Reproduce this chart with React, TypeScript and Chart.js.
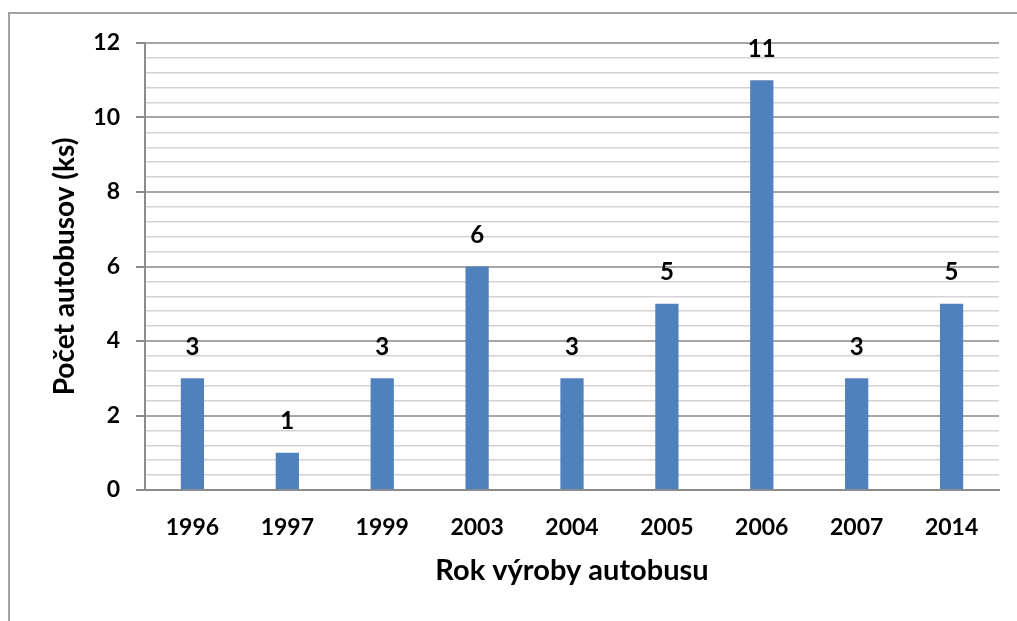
import React, { useEffect, useRef } from "react";
import { Chart, registerables } from "chart.js";

Chart.register(...registerables);

const categories = ["1996", "1997", "1999", "2003", "2004", "2005", "2006", "2007", "2014"];
const busCounts = [3, 1, 3, 6, 3, 5, 11, 3, 5];
const yMin = 0;
const yMax = 12;
const yMinorStep = 0.4;
const yMajorStep = 2;
const xTitle = "Rok výroby autobusu";
const yTitle = "Počet autobusov (ks)";

const FONT = "Lato, 'Open Sans', sans-serif";
const isMajor = (v: number) => Math.abs(v / yMajorStep - Math.round(v / yMajorStep)) < 1e-6;

const valueLabels = {
  id: "valueLabels",
  afterDatasetsDraw(chart: any) {
    const ctx = chart.ctx;
    const meta = chart.getDatasetMeta(0);
    const data = chart.data.datasets[0].data as number[];
    ctx.save();
    ctx.font = `bold 24px ${FONT}`;
    ctx.fillStyle = "#000";
    ctx.textAlign = "center";
    ctx.textBaseline = "middle";
    meta.data.forEach((bar: any, i: number) => {
      ctx.fillText(String(data[i]), bar.x, bar.y - 31);
    });
    ctx.restore();
  },
};

export default function App() {
  const ref = useRef<HTMLCanvasElement | null>(null);
  useEffect(() => {
    if (!ref.current) return;
    const chart = new Chart(ref.current, {
      type: "bar",
      data: {
        labels: categories,
        datasets: [
          {
            data: busCounts,
            backgroundColor: "#4F81BD",
            borderWidth: 0,
            barPercentage: 1,
            categoryPercentage: 0.245,
          },
        ],
      },
      options: {
        animation: false,
        responsive: false,
        maintainAspectRatio: false,
        layout: { padding: { top: 43, right: 18, left: 0, bottom: 0 } },
        plugins: { legend: { display: false }, tooltip: { enabled: false } },
        scales: {
          x: {
            grid: { display: false, drawTicks: false },
            border: { display: true, color: "#8c8c8c", width: 2 },
            ticks: {
              color: "#000",
              font: { family: FONT, weight: "bold", size: 23 },
              padding: 24,
            },
            title: {
              display: true,
              text: xTitle,
              color: "#000",
              font: { family: FONT, weight: "bold", size: 29 },
              padding: { top: 0, bottom: 33 },
            },
            afterFit: (s: any) => {
              s.height = 131;
            },
          },
          y: {
            min: yMin,
            max: yMax,
            grid: {
              color: (c: any) => (c.tick && isMajor(c.tick.value) ? "#a6a6a6" : "#d3d3d3"),
              lineWidth: (c: any) => (c.tick && isMajor(c.tick.value) ? 2 : 1.5),
              tickColor: (c: any) => (c.tick && isMajor(c.tick.value) ? "#8c8c8c" : "rgba(0,0,0,0)"),
              tickLength: 9,
              drawTicks: true,
            },
            border: { display: true, color: "#8c8c8c", width: 2 },
            ticks: {
              stepSize: yMinorStep,
              maxTicksLimit: 100,
              autoSkip: false,
              color: "#000",
              font: { family: FONT, weight: "bold", size: 23 },
              padding: 16,
              callback: (v: any) => (isMajor(Number(v)) ? String(Math.round(Number(v))) : ""),
            },
            title: {
              display: true,
              text: yTitle,
              color: "#000",
              font: { family: FONT, weight: "bold", size: 28 },
              padding: { top: 48, bottom: 0 },
            },
            afterFit: (s: any) => {
              s.width = 145;
            },
          },
        },
      },
      plugins: [valueLabels],
    });
    return () => chart.destroy();
  }, []);

  return (
    <div style={{ position: "fixed", left: 0, top: 0, width: 1017, height: 621, background: "#fff", overflow: "hidden" }}>
      <div
        style={{
          position: "absolute",
          left: 8,
          top: 12,
          width: 1017,
          height: 621,
          borderLeft: "2px solid #a3a3a3",
          borderTop: "2px solid #a3a3a3",
          boxSizing: "border-box",
        }}
      />
      <canvas ref={ref} width={1017} height={621} style={{ position: "absolute", left: 0, top: 0, width: 1017, height: 621 }} />
    </div>
  );
}
